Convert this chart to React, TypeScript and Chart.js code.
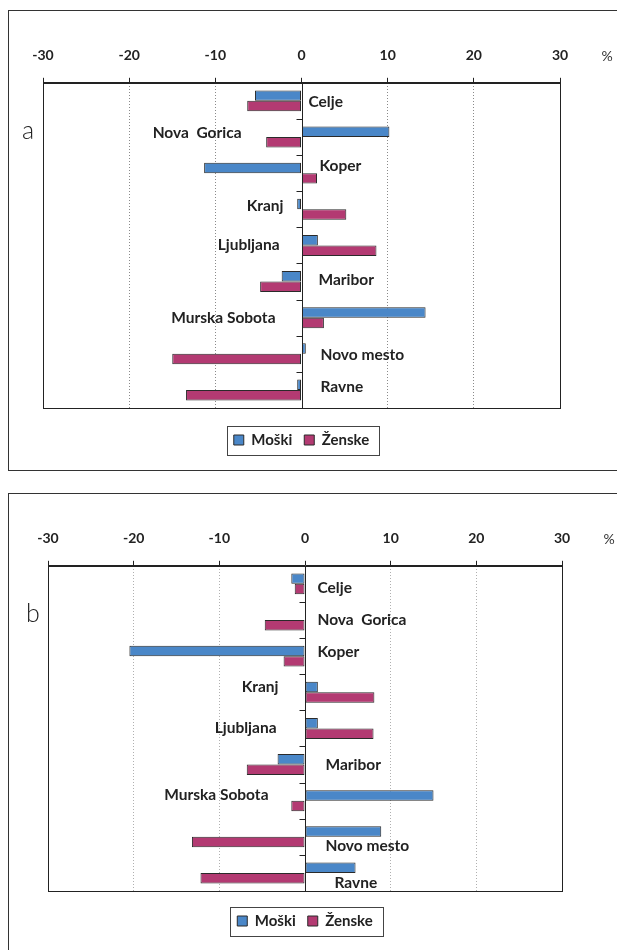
import React, { useEffect, useRef } from 'react';
import { Chart, registerables } from 'chart.js';

Chart.register(...registerables);

const categories = ['Celje', 'Nova  Gorica', 'Koper', 'Kranj', 'Ljubljana', 'Maribor', 'Murska Sobota', 'Novo mesto', 'Ravne'];
const seriesNames = ['Moški', 'Ženske'];
const xTicksMin = -30;
const xTicksMax = 30;
const xTickStep = 10;

// Panel a
const moskiA = [-5.4, 10.2, -11.3, -0.5, 1.9, -2.3, 14.4, 0.5, -0.5];
const zenskeA = [-6.3, -4.1, 1.8, 5.2, 8.7, -4.8, 2.6, -15.0, -13.4];
// Panel b
const moskiB = [-1.6, 0, -20.5, 1.5, 1.5, -3.2, 15.0, 8.9, 5.9];
const zenskeB = [-1.2, -4.7, -2.5, 8.1, 8.0, -6.8, -1.6, -13.2, -12.2];

// label placement (dx from zero line, dy from category centre)
const labelPosA = [[6, 1], [-61, -4], [17, -7], [-19, -3], [-23, 0], [16, -2], [-27, 0], [18, 1], [18, -3]];
const labelPosB = [[12, 4], [12, 0], [12, -4], [-27, -5], [-29, 0], [20, 0], [-37, -6], [20, 9], [29, 10]];

const BLUE = '#4a87c8';
const PINK = '#b33a72';
const FONT = 'Lato';

type PanelProps = {
  moski: number[];
  zenske: number[];
  labelPos: number[][];
  letter: string;
  gridColor: string;
  padL: number;
  padR: number;
  padTop: number;
  canvasH: number;
  titleH: number;
  padBottom: number;
};

function Panel(p: PanelProps) {
  const ref = useRef<HTMLCanvasElement>(null);
  useEffect(() => {
    const overlay = {
      id: 'overlay',
      afterDraw(chart: any) {
        const { ctx, chartArea: a, scales } = chart;
        const xs = scales.x;
        const ys = scales.y;
        const zero = Math.round(xs.getPixelForValue(0)) + 0.5;
        ctx.save();
        ctx.setLineDash([]);
        ctx.strokeStyle = '#222';
        ctx.lineWidth = 1;
        // plot box
        const L = Math.round(a.left) + 0.5;
        const R = Math.round(a.right) + 0.5;
        const T = Math.round(a.top) + 0.5;
        const B = Math.round(a.bottom) + 0.5;
        ctx.strokeRect(L, T, R - L, B - T);
        // zero line
        ctx.beginPath();
        ctx.moveTo(zero, T);
        ctx.lineTo(zero, B);
        ctx.stroke();
        // category tick marks
        ctx.beginPath();
        for (let i = 1; i < categories.length; i++) {
          const yy = Math.round((ys.getPixelForValue(i - 1) + ys.getPixelForValue(i)) / 2) + 0.5;
          ctx.moveTo(zero - 6, yy);
          ctx.lineTo(zero, yy);
        }
        ctx.stroke();
        // category labels
        ctx.fillStyle = '#222';
        ctx.font = `bold 15.5px ${FONT}`;
        ctx.textBaseline = 'middle';
        categories.forEach((c, i) => {
          const [dx, dy] = p.labelPos[i];
          const cy = ys.getPixelForValue(i) + dy;
          ctx.textAlign = dx >= 0 ? 'left' : 'right';
          ctx.fillText(c, zero + dx, cy);
        });
        // panel letter
        ctx.font = `300 25px ${FONT}`;
        ctx.textAlign = 'center';
        ctx.fillText(p.letter, a.left - 15, a.top + 48);
        // percent sign
        ctx.font = `14px ${FONT}`;
        ctx.fillStyle = '#333';
        ctx.fillText('%', a.right + 47, a.top - 26);
        // legend frame
        const hb = chart.legend && chart.legend.legendHitBoxes;
        if (hb && hb.length) {
          let l = Infinity, r = -Infinity, t = Infinity, b = -Infinity;
          hb.forEach((h: any) => {
            l = Math.min(l, h.left);
            r = Math.max(r, h.left + h.width);
            t = Math.min(t, h.top);
            b = Math.max(b, h.top + h.height);
          });
          ctx.strokeStyle = '#444';
          const fl = Math.round(l - 7) + 0.5;
          const fr = Math.round(r + 10) + 0.5;
          const ft = Math.round(t - 7) + 0.5;
          const fb = Math.round(b + 7) + 0.5;
          ctx.strokeRect(fl, ft, fr - fl, fb - ft);
        }
        ctx.restore();
      },
    };

    const chart = new Chart(ref.current as HTMLCanvasElement, {
      type: 'bar',
      data: {
        labels: categories,
        datasets: [
          {
            label: seriesNames[0],
            data: p.moski,
            backgroundColor: BLUE,
            borderColor: '#2a2a2a',
            borderWidth: 1,
            borderSkipped: false,
            categoryPercentage: 0.58,
            barPercentage: 1.0,
          },
          {
            label: seriesNames[1],
            data: p.zenske,
            backgroundColor: PINK,
            borderColor: '#2a2a2a',
            borderWidth: 1,
            borderSkipped: false,
            categoryPercentage: 0.58,
            barPercentage: 1.0,
          },
        ],
      },
      options: {
        indexAxis: 'y',
        animation: false,
        responsive: false,
        maintainAspectRatio: false,
        devicePixelRatio: 1,
        layout: { padding: { left: p.padL, right: p.padR, top: p.padTop, bottom: p.padBottom } },
        scales: {
          x: {
            position: 'top',
            min: xTicksMin,
            max: xTicksMax,
            ticks: {
              stepSize: xTickStep,
              color: '#222',
              padding: 14,
              font: { family: FONT, weight: 'bold', size: 14 },
            },
            grid: {
              color: (c: any) => {
                const v = c.tick ? c.tick.value : null;
                return v === 0 || v === xTicksMin || v === xTicksMax ? 'rgba(0,0,0,0)' : p.gridColor;
              },
              lineWidth: 1,
              drawTicks: true,
              tickLength: 5,
              tickColor: '#222',
              tickWidth: 1,
              tickBorderDash: [],
            },
            border: { display: true, color: '#222', width: 1, dash: [1, 2] },
          },
          y: {
            display: false,
          },
        },
        plugins: {
          legend: {
            position: 'bottom',
            align: 'center',
            title: { display: true, text: '', padding: 0, font: { size: p.titleH, lineHeight: 1 } },
            labels: {
              boxWidth: 10,
              boxHeight: 10,
              padding: 12,
              color: '#222',
              font: { family: FONT, weight: 'bold', size: 15 },
            },
          },
          tooltip: { enabled: false },
        },
      },
      plugins: [overlay],
    } as any);
    return () => chart.destroy();
  }, []);
  return <canvas ref={ref} width={616} height={p.canvasH} style={{ display: 'block' }} />;
}

export default function App() {
  useEffect(() => {
    document.documentElement.style.overflow = 'hidden';
    document.body.style.overflow = 'hidden';
  }, []);
  return (
    <div style={{ position: 'relative' }}>
      <div
        style={{
          marginTop: 2,
          width: 617,
          height: 461,
          boxSizing: 'border-box',
          borderLeft: '1px solid #333',
          borderTop: '1px solid #333',
          borderBottom: '1px solid #333',
        }}
      >
        <Panel moski={moskiA} zenske={zenskeA} labelPos={labelPosA} letter="a" gridColor="#8a8a8a"
          padL={34} padR={65} padTop={22} canvasH={459} titleH={12.5} padBottom={12.5} />
      </div>
      <div
        style={{
          marginTop: 22,
          width: 617,
          height: 457,
          boxSizing: 'border-box',
          borderLeft: '1px solid #333',
          borderTop: '1px solid #333',
        }}
      >
        <Panel moski={moskiB} zenske={zenskeB} labelPos={labelPosB} letter="b" gridColor="#b0b0b0"
          padL={39} padR={63} padTop={22} canvasH={456} titleH={10.5} padBottom={11.5} />
      </div>
    </div>
  );
}
